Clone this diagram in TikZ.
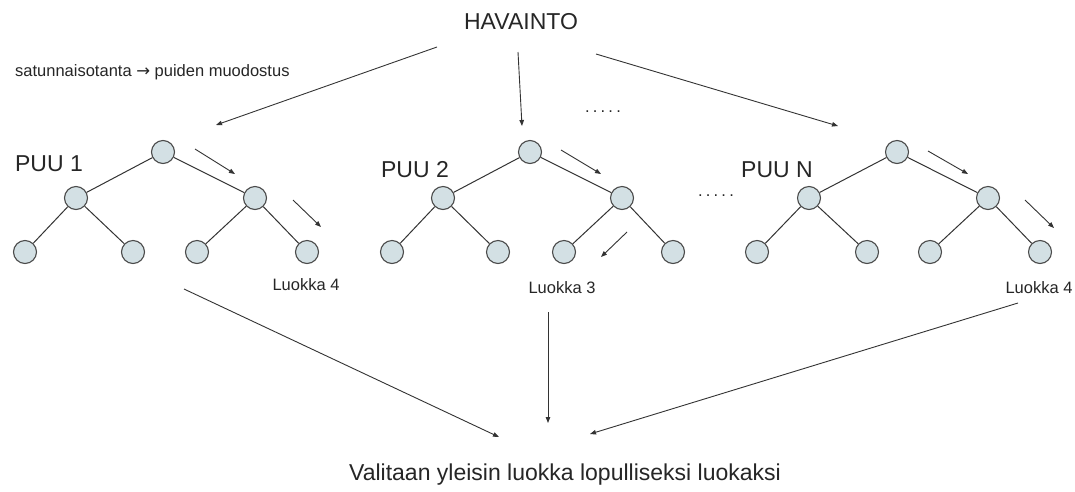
\documentclass[tikz,border=0pt]{standalone}
\usepackage{fontspec}
\setmainfont{Liberation Sans}
\newfontfamily\arrowfont{DejaVu Sans}
\usetikzlibrary{arrows.meta}
\definecolor{nodefill}{HTML}{D3E0E4}
\definecolor{nodeline}{HTML}{4A4A4A}
\definecolor{linecol}{HTML}{333333}
\tikzset{
  tn/.style={circle,draw=nodeline,fill=nodefill,line width=1.1pt,minimum size=23pt,inner sep=0pt},
  edge/.style={draw=linecol,line width=1pt},
  arr/.style={draw=linecol,line width=0.9pt,-{Triangle[length=6pt,width=4.5pt]}},
  big/.style={font=\fontsize{23}{27}\selectfont,text=black!85,inner sep=0pt},
  small/.style={font=\fontsize{16.5}{19}\selectfont,text=black!85,inner sep=0pt},
  bottom/.style={font=\fontsize{23}{27}\selectfont,text=black!85,inner sep=0pt},
}
\newcommand{\fivedots}{.\kern3.2pt.\kern3.2pt.\kern3.2pt.\kern3.2pt.}
\begin{document}
\begin{tikzpicture}[x=1pt,y=-1pt]
\fill[white] (0,0) rectangle (1075,491);
\useasboundingbox (0,0) rectangle (1075,491);

% texts
\node[big] (hav) at (521,22) {HAVAINTO};
\node[small,anchor=west] (sat) at (15,72) {satunnaisotanta {\arrowfont →} puiden muodostus};
\node[big] (p1) at (49,164) {PUU 1};
\node[big] (p2) at (415,170) {PUU 2};
\node[big] (pn) at (777,170) {PUU N};
\node[small] (l1) at (306,285) {Luokka 4};
\node[small] (l2) at (562,288) {Luokka 3};
\node[small] (l3) at (1039,288) {Luokka 4};
\node[bottom] (fin) at (565,475) {Valitaan yleisin luokka lopulliseksi luokaksi};
\node[small] (d1) at (603,112) {\fivedots};
\node[small] (d2) at (716,196) {\fivedots};

% tree 1
\node[tn] (a0) at (163,152) {};
\node[tn] (a1) at (76,198) {};
\node[tn] (a2) at (255,198) {};
\node[tn] (a3) at (25,252) {};
\node[tn] (a4) at (133,252) {};
\node[tn] (a5) at (197,252) {};
\node[tn] (a6) at (307,252) {};
% tree 2
\node[tn] (b0) at (530,152) {};
\node[tn] (b1) at (443,198) {};
\node[tn] (b2) at (622,198) {};
\node[tn] (b3) at (392,252) {};
\node[tn] (b4) at (498,252) {};
\node[tn] (b5) at (564,252) {};
\node[tn] (b6) at (673,252) {};
% tree N
\node[tn] (c0) at (897,152) {};
\node[tn] (c1) at (809,198) {};
\node[tn] (c2) at (988,198) {};
\node[tn] (c3) at (757,252) {};
\node[tn] (c4) at (867,252) {};
\node[tn] (c5) at (930,252) {};
\node[tn] (c6) at (1040,252) {};

\foreach \t in {a,b,c}{
  \draw[edge] (\t0) -- (\t1);
  \draw[edge] (\t0) -- (\t2);
  \draw[edge] (\t1) -- (\t3);
  \draw[edge] (\t1) -- (\t4);
  \draw[edge] (\t2) -- (\t5);
  \draw[edge] (\t2) -- (\t6);
}

% arrows from HAVAINTO
\coordinate (h1) at (437,47);
\coordinate (h2) at (518,52);
\coordinate (h3) at (596,54);
\coordinate (e1) at (216,125);
\coordinate (e2) at (522,126);
\coordinate (e3) at (838,126);
\draw[arr] (h1) -- (e1);
\draw[arr] (h2) -- (e2);
\draw[arr] (h3) -- (e3);

% small path arrows
\coordinate (s1a) at (195,149); \coordinate (s1b) at (235,174);
\coordinate (s2a) at (293,200); \coordinate (s2b) at (321,227);
\coordinate (s3a) at (561,150); \coordinate (s3b) at (601,174);
\coordinate (s4a) at (627,232); \coordinate (s4b) at (601,257);
\coordinate (s5a) at (928,151); \coordinate (s5b) at (968,174);
\coordinate (s6a) at (1025,200); \coordinate (s6b) at (1054,228);
\draw[arr] (s1a) -- (s1b);
\draw[arr] (s2a) -- (s2b);
\draw[arr] (s3a) -- (s3b);
\draw[arr] (s4a) -- (s4b);
\draw[arr] (s5a) -- (s5b);
\draw[arr] (s6a) -- (s6b);

% arrows to final
\coordinate (f1) at (184,289);
\coordinate (f2) at (548,312);
\coordinate (f3) at (1018,303);
\coordinate (g1) at (499,437);
\coordinate (g2) at (548,423);
\coordinate (g3) at (590,434);
\draw[arr] (f1) -- (g1);
\draw[arr] (f2) -- (g2);
\draw[arr] (f3) -- (g3);
\end{tikzpicture}
\end{document}
